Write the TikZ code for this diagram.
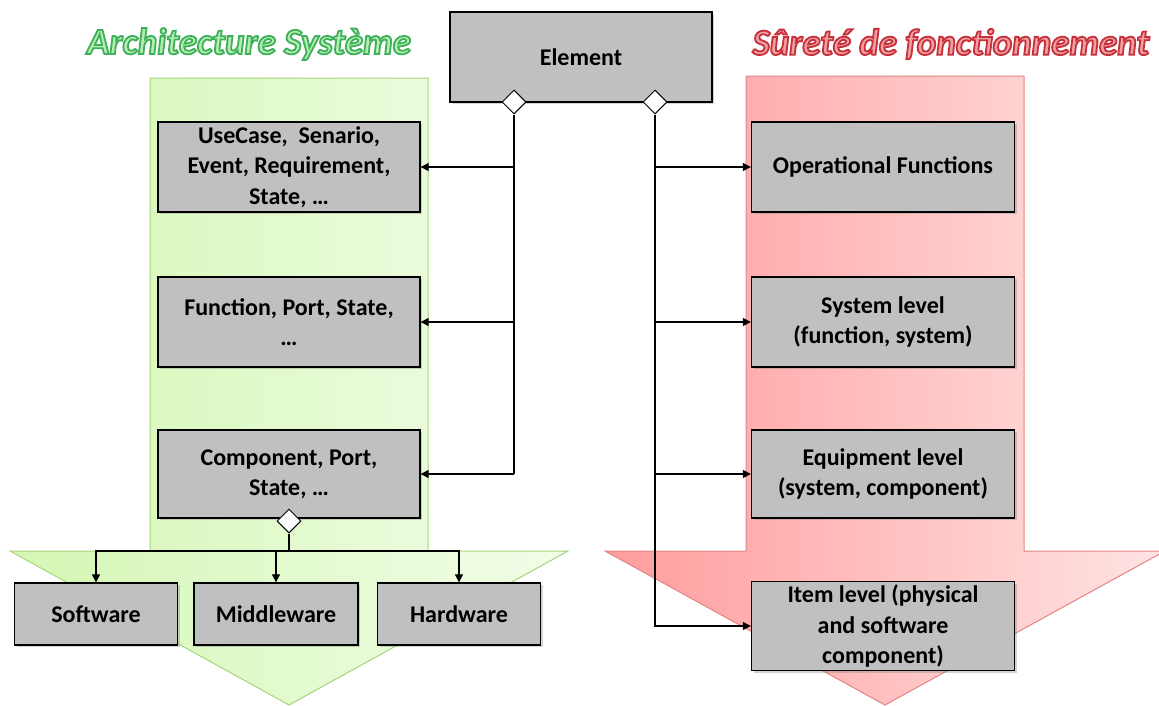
\documentclass[tikz,border=0pt]{standalone}
\usepackage{fontspec}
\setmainfont{Carlito}
\usetikzlibrary{shapes.geometric,arrows.meta,shadows}
\definecolor{boxgray}{HTML}{C0C0C0}
\definecolor{grnL}{HTML}{D4F7B4}
\definecolor{grnR}{HTML}{F2FDE8}
\definecolor{grnEdge}{HTML}{A6D47A}
\definecolor{redL}{HTML}{FF9C9C}
\definecolor{redR}{HTML}{FFE4E4}
\definecolor{redEdge}{HTML}{E38585}
\definecolor{titleGreenFill}{HTML}{B4EDB0}
\definecolor{titleRedFill}{HTML}{F0A0A0}
\newcommand{\outlinedtext}[3]{{\color{#1}\special{pdf:literal direct 2 Tr 1.8 w #2 RG}#3\special{pdf:literal direct 0 Tr}}}
\begin{document}
\begin{tikzpicture}[x=1pt,y=-1pt,
  blk/.style={draw=black,line width=1.3pt,fill=boxgray,align=center,
    font=\fontsize{24}{30.5}\selectfont\bfseries,inner sep=0pt,
    drop shadow={shadow xshift=2pt,shadow yshift=-2pt,opacity=0.35}},
  dia/.style={diamond,draw=black,fill=white,line width=1pt,minimum width=24pt,minimum height=24pt,inner sep=0pt},
  conn/.style={line width=1.1pt,draw=black},
  arr/.style={conn,-{Triangle[length=8pt,width=8pt]}},
  ttl/.style={font=\fontsize{37}{37}\selectfont\bfseries\itshape}]
\useasboundingbox (0,0) rectangle (1159,705);
% green arrow
\shade[left color=grnL,right color=grnR,draw=grnEdge,line width=1pt]
  (150,78) -- (428,78) -- (428,551) -- (568,551) -- (289,705) -- (10,551) -- (150,551) -- cycle;
% red arrow
\shade[left color=redL,right color=redR,draw=redEdge,line width=1pt]
  (746,76) -- (1024,76) -- (1024,551) -- (1165,551) -- (885,705) -- (605,551) -- (746,551) -- cycle;
% titles
\node[ttl] (t1) at (249,44) {\outlinedtext{titleGreenFill}{0.24 0.69 0.35}{Architecture Système}};
\node[ttl] (t2) at (951,44) {\outlinedtext{titleRedFill}{0.78 0.19 0.23}{Sûreté de fonctionnement}};
% boxes
\node[blk,minimum width=262pt,minimum height=90pt] (el) at (581,57) {Element};
\node[blk,minimum width=262pt,minimum height=90pt] (l1) at (289,167) {UseCase,\ \ Senario,\\Event, Requirement,\\State, …};
\node[blk,minimum width=262pt,minimum height=90pt] (l2) at (289,322) {Function, Port, State,\\…};
\node[blk,minimum width=262pt,minimum height=88pt] (l3) at (289,474) {Component, Port,\\State, …};
\node[blk,minimum width=163pt,minimum height=62pt] (sw) at (96,614) {Software};
\node[blk,minimum width=164pt,minimum height=62pt] (mw) at (276,614) {Middleware};
\node[blk,minimum width=163pt,minimum height=62pt] (hw) at (459,614) {Hardware};
\node[blk,minimum width=263pt,minimum height=90pt] (r1) at (883,167) {Operational Functions};
\node[blk,minimum width=263pt,minimum height=90pt] (r2) at (883,322) {System level\\(function, system)};
\node[blk,minimum width=263pt,minimum height=88pt] (r3) at (883,474) {Equipment level\\(system, component)};
\node[blk,minimum width=263pt,minimum height=89pt] (r4) at (883,626) {Item level (physical\\and software\\component)};
% diamonds
\node[dia] (d1) at (514,102) {};
\node[dia] (d2) at (655,102) {};
\node[dia] (d3) at (289,521) {};
% left connectors
\draw[conn] (d1.south) -- (d1.south |- l3.east);
\draw[arr] (d1.south |- l1.east) -- (l1.east);
\draw[arr] (d1.south |- l2.east) -- (l2.east);
\draw[arr] (d1.south |- l3.east) -- (l3.east);
% right connectors
\draw[arr] (d2.south) |- (r4.west);
\draw[arr] (d2.south |- r1.west) -- (r1.west);
\draw[arr] (d2.south |- r2.west) -- (r2.west);
\draw[arr] (d2.south |- r3.west) -- (r3.west);
% bottom connectors
\coordinate (j) at (289,551);
\draw[conn] (d3.south) -- (j);
\draw[arr] (j) -| (sw.north);
\draw[arr] (j) -| (hw.north);
\draw[arr] (mw.north |- j) -- (mw.north);
\end{tikzpicture}
\end{document}
